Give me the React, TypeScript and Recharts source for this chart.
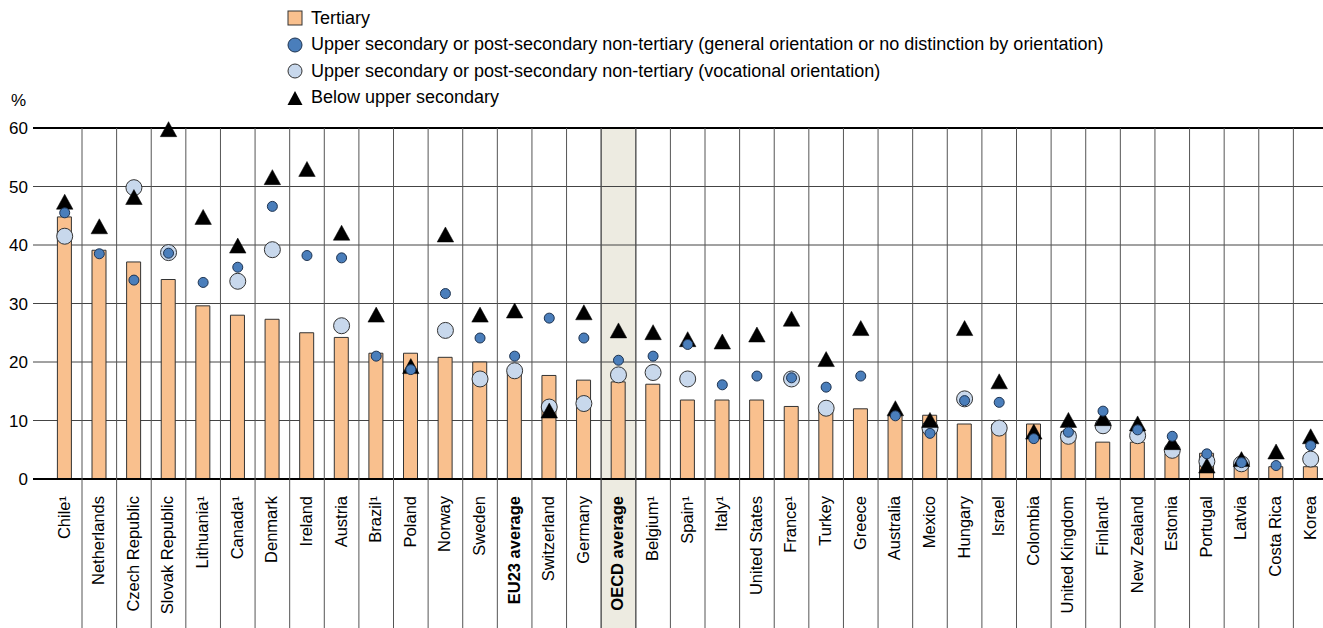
import React from 'react';
import {
  ComposedChart, Bar, Scatter, XAxis, YAxis, CartesianGrid, ReferenceArea, ReferenceLine,
} from 'recharts';

const categories = [
  'Chile¹', 'Netherlands', 'Czech Republic', 'Slovak Republic', 'Lithuania¹', 'Canada¹', 'Denmark',
  'Ireland', 'Austria', 'Brazil¹', 'Poland', 'Norway', 'Sweden', 'EU23 average', 'Switzerland',
  'Germany', 'OECD average', 'Belgium¹', 'Spain¹', 'Italy¹', 'United States', 'France¹', 'Turkey',
  'Greece', 'Australia', 'Mexico', 'Hungary', 'Israel', 'Colombia', 'United Kingdom', 'Finland¹',
  'New Zealand', 'Estonia', 'Portugal', 'Latvia', 'Costa Rica', 'Korea',
];

const tertiary = [
  44.8, 39.1, 37.1, 34.1, 29.6, 28.0, 27.3, 25.0, 24.2, 21.5, 21.5, 20.8, 20.0, 18.1, 17.7,
  16.9, 16.6, 16.2, 13.5, 13.5, 13.5, 12.4, 11.9, 12.0, 10.8, 10.9, 9.4, 9.4, 9.4, 8.1, 6.3,
  6.3, 4.3, 4.4, 2.2, 2.1, 2.1,
];

const generalOrientation = [
  45.5, 38.5, 34.0, 38.6, 33.6, 36.2, 46.6, 38.2, 37.8, 21.0, 18.7, 31.7, 24.1, 21.0, 27.5,
  24.1, 20.3, 21.0, 23.0, 16.1, 17.6, 17.3, 15.7, 17.6, 10.8, 7.8, 13.4, 13.1, 6.9, 8.0, 11.6,
  8.4, 7.3, 4.3, 2.8, 2.3, 5.7,
];

const vocationalOrientation: (number | null)[] = [
  41.5, null, 49.8, 38.7, null, 33.8, 39.2, null, 26.2, null, null, 25.4, 17.1, 18.5, 12.3,
  12.9, 17.8, 18.2, 17.1, null, null, 17.1, 12.1, null, null, 8.7, 13.7, 8.7, null, 7.3, 9.1,
  7.4, 4.9, 3.0, 2.6, null, 3.4,
];

const belowUpperSecondary = [
  47.4, 43.2, 48.2, 59.8, 44.8, 39.9, 51.6, 53.0, 42.1, 28.1, 19.3, 41.8, 28.1, 28.8, 11.7,
  28.5, 25.4, 25.1, 23.9, 23.5, 24.7, 27.4, 20.5, 25.8, 12.1, 10.1, 25.8, 16.7, 8.1, 10.1, 10.4,
  9.5, 6.3, 2.3, 3.4, 4.7, 7.3,
];

const yTicks = [0, 10, 20, 30, 40, 50, 60];
const boldCategories = ['EU23 average', 'OECD average'];
const shadedCategory = 'OECD average';

const legendItems = [
  { key: 'bar', label: 'Tertiary' },
  { key: 'general', label: 'Upper secondary or post-secondary non-tertiary (general orientation or no distinction by orientation)' },
  { key: 'voc', label: 'Upper secondary or post-secondary non-tertiary (vocational orientation)' },
  { key: 'below', label: 'Below upper secondary' },
];

const data = categories.map((name, i) => ({
  name,
  tertiary: tertiary[i],
  general: generalOrientation[i],
  vocational: vocationalOrientation[i],
  below: belowUpperSecondary[i],
}));

const FONT = '"Liberation Sans", Arial, Helvetica, sans-serif';
const BAR_FILL = '#F9C08E';
const DARK_FILL = '#4A7EBB';
const LIGHT_FILL = '#C8D8EC';

const CHART_W = 1330;
const CHART_H = 628;
const MARGIN = { top: 128, right: 2, bottom: 0, left: 0 };
const Y_W = 33;
const X_PAD_LEFT = 14.4;
const BAND_W = (CHART_W - MARGIN.right - MARGIN.left - Y_W - X_PAD_LEFT) / categories.length;

const XTick = (props: any) => {
  const { x, payload, index } = props;
  const label = String(payload.value);
  const bold = boldCategories.includes(label);
  const isLast = index === categories.length - 1;
  return (
    <g>
      {!isLast && (
        <line x1={x + BAND_W / 2} y1={MARGIN.top} x2={x + BAND_W / 2} y2={CHART_H}
          stroke="#555" strokeWidth={1} />
      )}
      <text
        x={0}
        y={0}
        transform={`translate(${x - 1}, ${496}) rotate(-90)`}
        textAnchor="end"
        dy="0.36em"
        fontSize={16.5}
        fontFamily={FONT}
        fontWeight={bold ? 'bold' : 'normal'}
        fill="#000"
      >
        {label}
      </text>
    </g>
  );
};

const valid = (v: any) => v !== null && v !== undefined && Number.isFinite(v);

const DarkDot = (props: any) => {
  const { cx, cy, payload } = props;
  if (!payload || !valid(payload.general) || !Number.isFinite(cy)) return <g />;
  return <circle cx={cx} cy={cy} r={5} fill={DARK_FILL} stroke="#1E3350" strokeWidth={1} />;
};

const LightDot = (props: any) => {
  const { cx, cy, payload } = props;
  if (!payload || !valid(payload.vocational) || !Number.isFinite(cy)) return <g />;
  return <circle cx={cx} cy={cy} r={8} fill={LIGHT_FILL} stroke="#333" strokeWidth={1} />;
};

const Tri = (props: any) => {
  const { cx, cy, payload } = props;
  if (!payload || !valid(payload.below) || !Number.isFinite(cy)) return <g />;
  const h = 15;
  const w = 16.5;
  const d = `M${cx},${cy - h / 2} L${cx + w / 2},${cy + h / 2} L${cx - w / 2},${cy + h / 2} Z`;
  return <path d={d} fill="#000" stroke="#000" strokeWidth={0.5} />;
};

const LegendIcon = ({ kind }: { kind: string }) => {
  if (kind === 'bar') {
    return (
      <svg width={16} height={16} style={{ display: 'block' }}>
        <rect x={1} y={1} width={14} height={14} fill={BAR_FILL} stroke="#333" strokeWidth={1} />
      </svg>
    );
  }
  if (kind === 'general') {
    return (
      <svg width={16} height={16} style={{ display: 'block' }}>
        <circle cx={8} cy={8} r={7} fill={DARK_FILL} stroke="#1E3350" strokeWidth={1} />
      </svg>
    );
  }
  if (kind === 'voc') {
    return (
      <svg width={16} height={16} style={{ display: 'block' }}>
        <circle cx={8} cy={8} r={7} fill={LIGHT_FILL} stroke="#333" strokeWidth={1} />
      </svg>
    );
  }
  return (
    <svg width={16} height={16} style={{ display: 'block' }}>
      <path d="M8,1 L15.5,15 L0.5,15 Z" fill="#000" />
    </svg>
  );
};

export default function App() {
  return (
    <div style={{ position: 'absolute', left: 0, top: 0, width: 1323, height: 628, overflow: 'hidden', background: '#fff' }}>
      <div style={{ position: 'absolute', left: 287, top: 5, fontFamily: FONT, fontSize: 18, color: '#000' }}>
        {legendItems.map((it) => (
          <div key={it.key} style={{ display: 'flex', alignItems: 'center', height: 26.5, whiteSpace: 'nowrap' }}>
            <LegendIcon kind={it.key} />
            <span style={{ marginLeft: 8 }}>{it.label}</span>
          </div>
        ))}
      </div>
      <div style={{ position: 'absolute', left: 11, top: 91, fontFamily: FONT, fontSize: 17, color: '#000' }}>%</div>
      <ComposedChart width={CHART_W} height={CHART_H} data={data} margin={MARGIN}>
        <ReferenceArea
          x1={shadedCategory}
          x2={shadedCategory}
          y1={-30}
          y2={60}
          ifOverflow="visible"
          fill="#EDEBE1"
          fillOpacity={1}
          stroke="#8C8C8C"
          strokeWidth={1.5}
          zIndex={-200}
        />
        <CartesianGrid vertical={false} stroke="#444" strokeWidth={1} />
        <XAxis
          dataKey="name"
          interval={0}
          height={149}
          axisLine={false}
          tickLine={false}
          tick={<XTick />}
          padding={{ left: X_PAD_LEFT, right: 0 }}
        />
        <YAxis
          type="number"
          domain={[0, 60]}
          ticks={yTicks}
          width={Y_W}
          axisLine={false}
          tickLine={false}
          tickSize={0}
          tickMargin={5}
          tick={{ fontSize: 17, fontFamily: FONT, fill: '#000' }}
          interval={0}
        />
        <ReferenceLine y={0} stroke="#000" strokeWidth={2} />
        <ReferenceLine y={60} stroke="#000" strokeWidth={2} />
        <Bar dataKey="tertiary" barSize={14} fill={BAR_FILL} stroke="#333" strokeWidth={1} isAnimationActive={false} />
        <Scatter dataKey="vocational" shape={<LightDot />} isAnimationActive={false} />
        <Scatter dataKey="below" shape={<Tri />} isAnimationActive={false} />
        <Scatter dataKey="general" shape={<DarkDot />} isAnimationActive={false} />
      </ComposedChart>
    </div>
  );
}
